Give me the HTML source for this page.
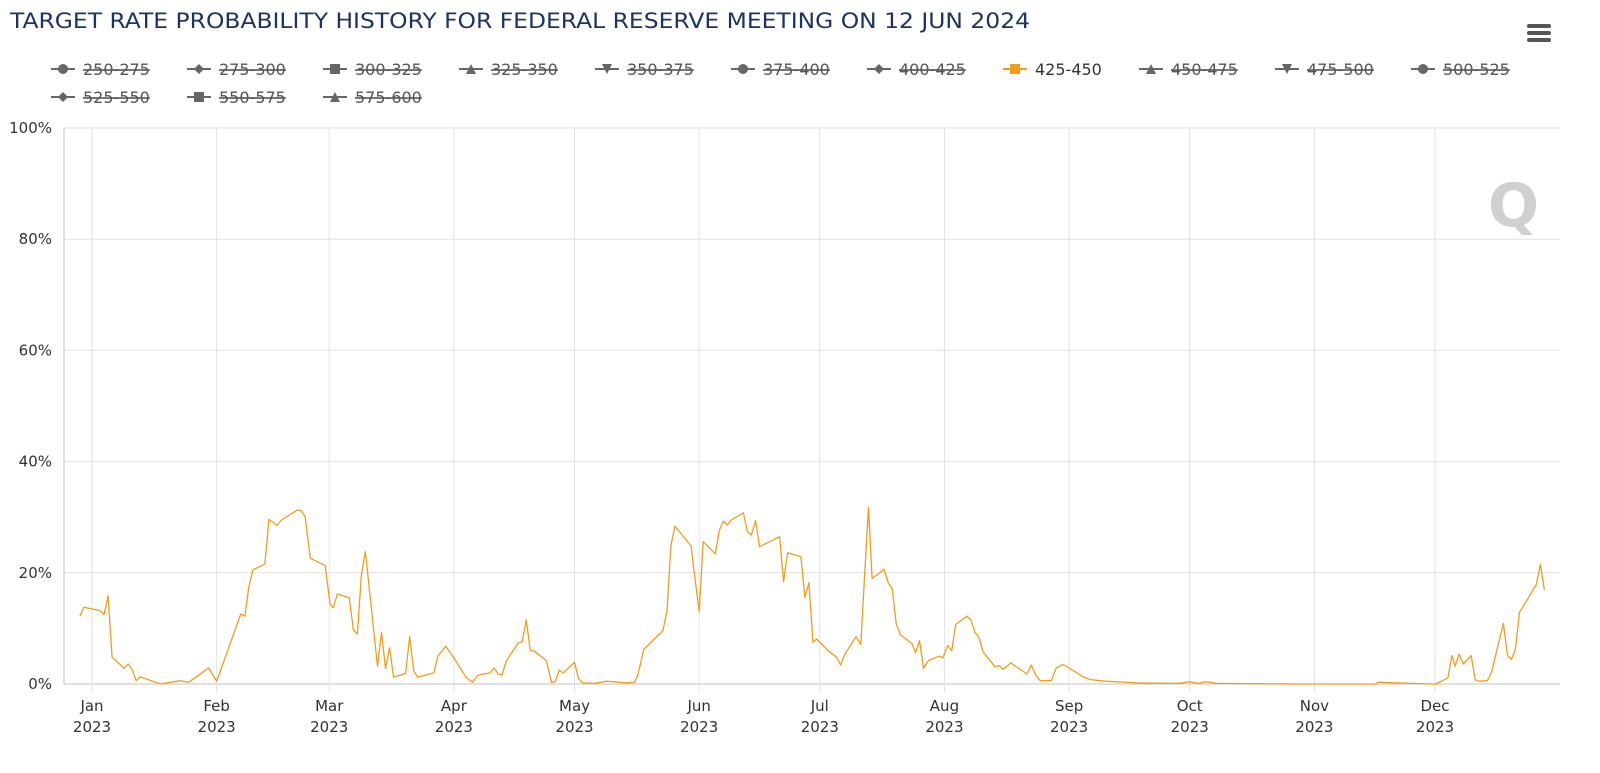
<!DOCTYPE html>
<html><head><meta charset="utf-8">
<style>
html,body{margin:0;padding:0;background:#fff;}
body{width:1600px;height:769px;overflow:hidden;font-family:"DejaVu Sans","Liberation Sans",sans-serif;}
svg text{font-family:"DejaVu Sans","Liberation Sans",sans-serif;}
</style></head>
<body>
<svg id="chart" width="1600" height="769">
  <text x="10" y="28" font-size="21" fill="#1c3461" textLength="1020" lengthAdjust="spacingAndGlyphs">TARGET RATE PROBABILITY HISTORY FOR FEDERAL RESERVE MEETING ON 12 JUN 2024</text>
  <g>
    <rect x="1527" y="24" width="24" height="4" rx="2" fill="#555"/>
    <rect x="1527" y="31" width="24" height="4" rx="2" fill="#555"/>
    <rect x="1527" y="38" width="24" height="4" rx="2" fill="#555"/>
  </g>
  <g>
    <text x="1488" y="226" font-size="60" font-weight="bold" fill="#d0d0d0">Q</text>
  </g>
  <g id="legend"></g>
  <g id="grid"></g>
  <g id="axes"></g>
  <g id="series"></g>
</svg>
<script>
const legendNames = ["250-275","275-300","300-325","325-350","350-375","375-400","400-425","425-450","450-475","475-500","500-525","525-550","550-575","575-600"];
const legendShapes = ["circle","diamond","square","triangle","triangle-down","circle","diamond","square","triangle","triangle-down","circle","diamond","square","triangle"];
const activeSeries = "425-450";
const yTicks = [0,20,40,60,80,100];
const monthLabels = ["Jan","Feb","Mar","Apr","May","Jun","Jul","Aug","Sep","Oct","Nov","Dec"];
const monthDays = [0,31,59,90,120,151,181,212,243,273,304,334];
const days = [-3,-2,2,3,4,5,8,9,10,11,12,17,22,24,26,29,31,32.5,37,38,39,40,43,44,46,47,51,52,53,54.3,58,59.2,60,61,64,65,66,67,68,71,72,73,74,75,78,79,80,81,85,86,88,90,92,93,94.6,96,99,100,101,102,103,106,107,108,109,110,113,114.3,115.2,116.2,117.2,120,121,122,125,128,133,135,135.8,137.2,142,143,144,145,149,150,151,152,155,156,157,158,159,162,163,164,165,166,171,172,173,176.3,177.3,178.3,179.3,180.2,183.2,185.2,186.2,187.2,190,191.2,192.1,193.1,194,197,198,199,200,201,204,204.8,205.8,206.8,208,210.7,211.6,212.8,213.8,214.8,217.6,218.6,219.6,220.6,221.6,224.6,225.7,226.6,228.5,232.5,233.6,234.8,235.8,238.6,239.8,241.5,244.7,246.4,248.3,252,260,270,273,275,277,280,300,318,319,320,333,334.2,337.2,338.2,339,340,341,343,344,345,347,348,351,352,353,354,355,359.2,360.2,361.2];
const values = [12.2,13.8,13.2,12.5,15.9,4.8,2.8,3.6,2.6,0.6,1.3,0,0.6,0.3,1.3,2.9,0.5,3.5,12.6,12.2,17.4,20.5,21.6,29.6,28.5,29.4,31.3,31.2,30.1,22.6,21.3,14.4,13.7,16.2,15.5,9.7,9,19.7,23.8,3.2,9.3,2.8,6.5,1.2,1.9,8.5,2.4,1.2,2,5,6.8,4.7,2.4,1.2,0.3,1.6,2,2.9,1.8,1.6,4.1,7.4,7.6,11.5,6,5.9,4.2,0.3,0.4,2.5,2,3.9,1,0.2,0.1,0.5,0.2,0.3,1.8,6.2,9.6,13.2,25,28.4,24.8,18.8,13,25.6,23.4,27.6,29.3,28.6,29.5,30.8,27.4,26.8,29.4,24.7,26.5,18.4,23.6,22.9,15.6,18.2,7.5,8.1,5.9,4.8,3.4,5.3,8.5,7.1,18.8,31.8,19,20.6,18.2,17.1,10.9,8.9,7.2,5.6,7.8,2.8,4.2,5,4.7,6.9,6,10.7,12.2,11.5,9.3,8.4,5.8,3.1,3.3,2.6,3.8,1.8,3.4,1.5,0.6,0.6,2.9,3.5,2.1,1.3,0.8,0.5,0.2,0.1,0.4,0.1,0.4,0.1,0,0,0,0.3,0,0,1.1,5.1,3.2,5.4,3.6,5.1,0.8,0.5,0.6,2,10.9,5.2,4.4,6.2,12.9,17.9,21.5,16.9,22.6,17.4];

const NS="http://www.w3.org/2000/svg";
function mk(tag, attrs, parent){const e=document.createElementNS(NS,tag);for(const k in attrs)e.setAttribute(k,attrs[k]);parent.appendChild(e);return e;}
const L=64,R=1560,T=128,B=684;
const xScale=d=>92+d*4.021;
const yScale=v=>B-(v/100)*(B-T);

const grid=document.getElementById('grid'), axes=document.getElementById('axes'), series=document.getElementById('series'), legend=document.getElementById('legend');

yTicks.forEach(t=>{
  const y=yScale(t);
  const gl=mk('line',{x1:L,x2:R,y1:y,y2:y,stroke:t===0?'#c0c0c0':'#e2e2e2','stroke-width':1},grid);
  
  
  const tx=mk('text',{x:52,y:y+5,'text-anchor':'end','font-size':15,fill:'#333'},axes);
  tx.textContent=t+'%';
  
  
});
monthLabels.forEach((m,i)=>{
  const x=xScale(monthDays[i]);
  const gl=mk('line',{x1:x,x2:x,y1:T,y2:B+8,stroke:'#e2e2e2','stroke-width':1},grid);
  
  
  const t1=mk('text',{x:x,y:711,'text-anchor':'middle','font-size':15,fill:'#333'},axes);
  t1.textContent=m;
  
  
  const t2=mk('text',{x:x,y:732,'text-anchor':'middle','font-size':15,fill:'#333'},axes);
  t2.textContent='2023';
  
  
});
const ax=mk('line',{x1:L,x2:L,y1:T,y2:B,stroke:'#c0c0c0','stroke-width':1},axes);



let d='';
days.forEach((dd,i)=>{d+=(i?'L':'M')+xScale(dd).toFixed(1)+','+yScale(values[i]).toFixed(1);});
const path=mk('path',{d:d,fill:'none',stroke:'#f29c1e','stroke-width':1.3,'stroke-linejoin':'round'},series);



function shape(s,cx,cy,col,g){
  if(s==='circle')return mk('circle',{cx:cx,cy:cy,r:5,fill:col},g);
  if(s==='square')return mk('rect',{x:cx-5,y:cy-5,width:10,height:10,fill:col},g);
  if(s==='diamond')return mk('path',{d:`M${cx},${cy-5}L${cx+5},${cy}L${cx},${cy+5}L${cx-5},${cy}Z`,fill:col},g);
  if(s==='triangle')return mk('path',{d:`M${cx},${cy-5}L${cx+5},${cy+5}L${cx-5},${cy+5}Z`,fill:col},g);
  return mk('path',{d:`M${cx-5},${cy-5}L${cx+5},${cy-5}L${cx},${cy+5}Z`,fill:col},g);
}
legendNames.forEach((n,i)=>{
  const row=i<11?0:1, col=i<11?i:i-11;
  const tx=83+col*136.0, cy=row?97:69;
  const on=n===activeSeries;
  const c=on?'#f29c1e':'#666';
  const g=mk('g',{},legend);
  
  
  mk('line',{x1:tx-32,x2:tx-8,y1:cy,y2:cy,stroke:c,'stroke-width':2},g);
  shape(legendShapes[i],tx-20,cy,c,g);
  const t=mk('text',{x:tx,y:cy+6,'font-size':16,fill:on?'#333':'#555'},g);
  t.textContent=n;
  if(!on) t.setAttribute('text-decoration','line-through');
});
</script>
</body></html>
